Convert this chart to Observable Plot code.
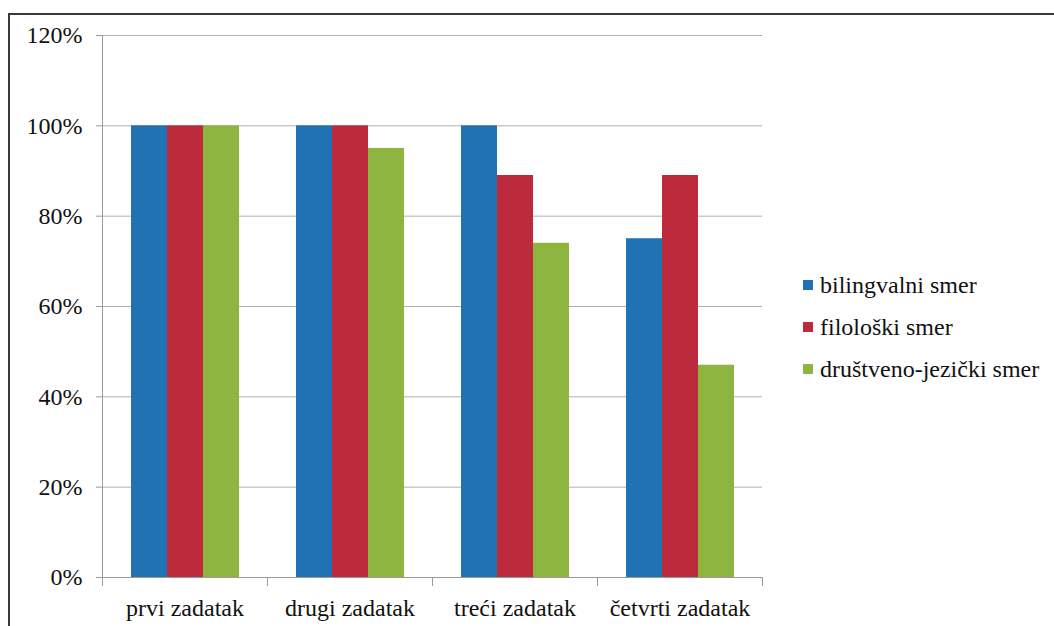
<!DOCTYPE html>
<html>
<head>
<meta charset="utf-8">
<script src="https://cdn.jsdelivr.net/npm/d3@7"></script>
<script src="https://cdn.jsdelivr.net/npm/@observablehq/plot@0.6"></script>
<style>
  html, body { margin: 0; padding: 0; background: #fff; overflow: hidden; }
  #page { position: relative; width: 1054px; height: 626px; overflow: hidden; }
  #border { position: absolute; left: 8px; top: 13px; width: 1100px; height: 700px;
            border-top: 2px solid #3a3a3a; border-left: 2px solid #3a3a3a; }
  #chart { position: absolute; left: 0; top: 0; }
  #legend { position: absolute; left: 803px; top: 264px;
            font-family: "Liberation Serif", Tinos, "Noto Serif", FreeSerif, "Noto Serif CJK SC", "DejaVu Serif", Georgia, Times, serif;
            font-size: 24px; color: #111; }
  .row { display: flex; align-items: center; height: 42px; white-space: nowrap; }
  .sw { width: 10px; height: 10px; margin-right: 7px; flex: none; }
</style>
</head>
<body>
<div id="page">
  <div id="border"></div>
  <div id="chart"></div>
  <div id="legend"></div>
</div>
<script>
const categories = ["prvi zadatak", "drugi zadatak", "treći zadatak", "četvrti zadatak"];
const series = ["bilingvalni smer", "filološki smer", "društveno-jezički smer"];
const bilingvalni = [100, 100, 100, 75];
const filoloski = [100, 100, 89, 89];
const drustveno = [100, 95, 74, 47];
const colors = ["#1f72b4", "#bd2a3b", "#8db53f"];
const yTicks = [0, 20, 40, 60, 80, 100, 120];

const seriesValues = [bilingvalni, filoloski, drustveno];
const data = [];
categories.forEach((c, i) => {
  series.forEach((s, j) => data.push({cat: c, series: s, value: seriesValues[j][i]}));
});

const axisColor = "#9a9a9a";
const serif = "'Liberation Serif', Tinos, 'Noto Serif', FreeSerif, 'Noto Serif CJK SC', 'DejaVu Serif', Georgia, Times, serif";
const W = 780, H = 626, mt = 35, mb = 49, ml = 102, mr = 18;
const innerH = H - mt - mb;

const chart = Plot.plot({
  width: W,
  height: H,
  marginTop: mt,
  marginBottom: mb,
  marginLeft: ml,
  marginRight: mr,
  style: {fontFamily: serif, fontSize: "24px", color: "#111", background: "transparent"},
  fx: {domain: categories, padding: 0, axis: "bottom", tickSize: 0, tickPadding: 21, label: null},
  x: {domain: series, paddingInner: 0, paddingOuter: 0.75, axis: null},
  y: {domain: [0, 120], axis: null},
  color: {domain: series, range: colors},
  marks: [
    Plot.ruleY(yTicks, {stroke: "#b0b0b0", strokeWidth: 1}),
    Plot.barY(data, {fx: "cat", x: "series", y: "value", fill: "series"}),
    Plot.frame({anchor: "bottom", stroke: axisColor, strokeOpacity: 1}),
    Plot.frame({anchor: "left", fx: categories[0], stroke: axisColor, strokeOpacity: 1}),
    Plot.frame({anchor: "left", insetTop: innerH, insetBottom: -8, stroke: axisColor, strokeOpacity: 1}),
    Plot.frame({anchor: "right", insetTop: innerH, insetBottom: -8, stroke: axisColor, strokeOpacity: 1}),
    Plot.axisY({ticks: yTicks, tickSize: 6, tickPadding: 14, tickFormat: d => d + "%", stroke: axisColor, label: null, color: "#111"})
  ]
});
document.getElementById("chart").appendChild(chart);

const legend = document.getElementById("legend");
series.forEach((s, i) => {
  const row = document.createElement("div");
  row.className = "row";
  const sw = document.createElement("span");
  sw.className = "sw";
  sw.style.background = colors[i];
  const t = document.createElement("span");
  t.textContent = s;
  row.appendChild(sw);
  row.appendChild(t);
  legend.appendChild(row);
});
</script>
</body>
</html>
